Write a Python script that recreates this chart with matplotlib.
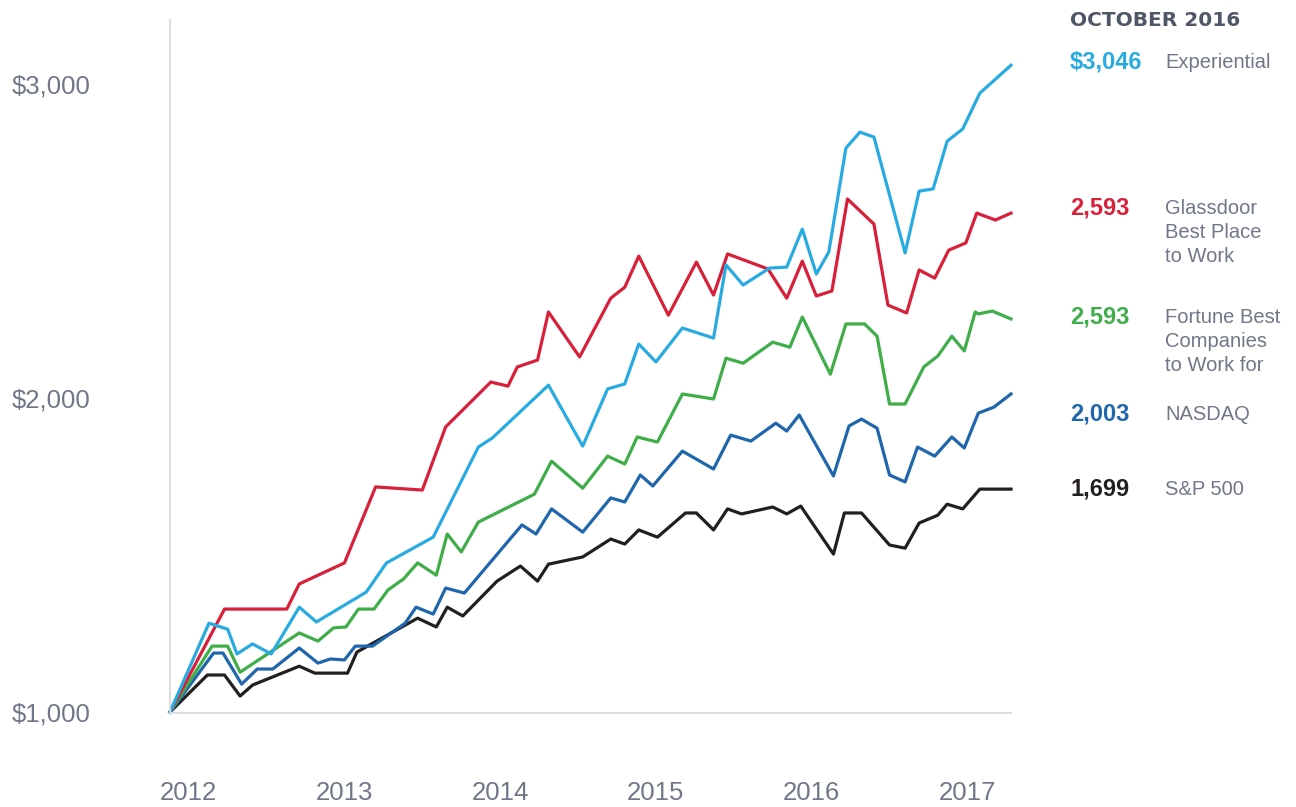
import matplotlib.pyplot as plt

plt.rcParams['font.family'] = ['Liberation Sans', 'DejaVu Sans']

# growth of $1,000
sp500_x = [2011.88, 2012.12, 2012.23, 2012.33, 2012.41, 2012.71, 2012.81, 2013.02, 2013.08, 2013.47,
           2013.59, 2013.66, 2013.76, 2013.98, 2014.13, 2014.24, 2014.31, 2014.53, 2014.71, 2014.80,
           2014.89, 2015.01, 2015.19, 2015.26, 2015.37, 2015.46, 2015.55, 2015.75, 2015.84, 2015.93,
           2016.14, 2016.21, 2016.32, 2016.50, 2016.60, 2016.69, 2016.81, 2016.87, 2016.97, 2017.08, 2017.28]
sp500_y = [1000, 1118, 1118, 1051, 1086, 1146, 1124, 1124, 1191, 1299,
           1271, 1334, 1306, 1417, 1465, 1417, 1471, 1494, 1551, 1535,
           1580, 1557, 1634, 1634, 1580, 1647, 1631, 1653, 1631, 1656,
           1503, 1634, 1634, 1532, 1522, 1602, 1627, 1662, 1647, 1710, 1710]

nasdaq_x = [2011.88, 2012.16, 2012.22, 2012.34, 2012.44, 2012.54, 2012.71, 2012.83, 2012.91, 2013.00,
            2013.07, 2013.18, 2013.39, 2013.46, 2013.57, 2013.65, 2013.77, 2014.14, 2014.23, 2014.33,
            2014.53, 2014.71, 2014.80, 2014.90, 2014.98, 2015.17, 2015.37, 2015.48, 2015.61, 2015.77,
            2015.84, 2015.92, 2016.14, 2016.24, 2016.32, 2016.42, 2016.50, 2016.60, 2016.68, 2016.79,
            2016.90, 2016.98, 2017.07, 2017.17, 2017.28]
nasdaq_y = [1000, 1188, 1188, 1089, 1137, 1137, 1204, 1156, 1169, 1166,
            1210, 1210, 1283, 1334, 1312, 1395, 1379, 1596, 1567, 1647,
            1573, 1682, 1669, 1755, 1720, 1831, 1774, 1882, 1863, 1920,
            1895, 1946, 1752, 1911, 1933, 1904, 1755, 1733, 1844, 1815,
            1876, 1841, 1952, 1971, 2013]

fortune_x = [2011.88, 2012.15, 2012.25, 2012.33, 2012.71, 2012.83, 2012.93, 2013.01, 2013.09, 2013.19,
             2013.28, 2013.38, 2013.47, 2013.59, 2013.66, 2013.75, 2013.86, 2014.22, 2014.33, 2014.53,
             2014.69, 2014.80, 2014.88, 2015.01, 2015.17, 2015.37, 2015.45, 2015.56, 2015.75, 2015.86,
             2015.94, 2016.12, 2016.22, 2016.34, 2016.42, 2016.50, 2016.60, 2016.72, 2016.81, 2016.90,
             2016.98, 2017.05, 2017.07, 2017.16, 2017.28]
fortune_y = [1000, 1210, 1210, 1127, 1252, 1226, 1268, 1271, 1328, 1328,
             1389, 1424, 1475, 1436, 1567, 1510, 1605, 1694, 1799, 1713,
             1815, 1790, 1876, 1860, 2013, 1997, 2127, 2111, 2178, 2162,
             2258, 2076, 2236, 2236, 2197, 1981, 1981, 2099, 2134, 2197,
             2150, 2274, 2268, 2277, 2252]

exper_x = [2011.88, 2012.13, 2012.25, 2012.31, 2012.41, 2012.53, 2012.71, 2012.82, 2013.14, 2013.27,
           2013.57, 2013.86, 2013.95, 2014.31, 2014.53, 2014.69, 2014.80, 2014.89, 2015.00, 2015.17,
           2015.37, 2015.45, 2015.56, 2015.73, 2015.84, 2015.94, 2016.03, 2016.11, 2016.22, 2016.31,
           2016.40, 2016.60, 2016.69, 2016.78, 2016.87, 2016.97, 2017.08, 2017.28]
exper_y = [1000, 1283, 1264, 1185, 1217, 1185, 1334, 1287, 1382, 1475,
           1557, 1844, 1873, 2041, 1847, 2029, 2045, 2172, 2115, 2223,
           2191, 2424, 2360, 2414, 2417, 2538, 2395, 2465, 2796, 2847,
           2831, 2462, 2659, 2666, 2818, 2857, 2971, 3060]

glass_x = [2011.88, 2012.23, 2012.63, 2012.71, 2013.00, 2013.20, 2013.50, 2013.65, 2013.94, 2014.05,
           2014.11, 2014.24, 2014.31, 2014.51, 2014.71, 2014.80, 2014.89, 2015.08, 2015.26, 2015.37,
           2015.46, 2015.72, 2015.84, 2015.94, 2016.03, 2016.13, 2016.23, 2016.40, 2016.49, 2016.61,
           2016.69, 2016.79, 2016.88, 2016.99, 2017.06, 2017.18, 2017.28]
glass_y = [1000, 1328, 1328, 1408, 1475, 1717, 1707, 1908, 2051, 2038,
           2099, 2121, 2274, 2131, 2318, 2353, 2452, 2264, 2433, 2328,
           2459, 2411, 2318, 2436, 2325, 2341, 2634, 2554, 2296, 2271,
           2408, 2382, 2471, 2494, 2589, 2567, 2589]

years = [2012, 2013, 2014, 2015, 2016, 2017]
y_ticks = [1000, 2000, 3000]
y_labels = ['$1,000', '$2,000', '$3,000']

legend_title = 'OCTOBER 2016'
legend_values = ['$3,046', '2,593', '2,593', '2,003', '1,699']
legend_names = ['Experiential', 'Glassdoor\nBest Place\nto Work', 'Fortune Best\nCompanies\nto Work for',
                'NASDAQ', 'S&P 500']

c_sp, c_nas, c_fort, c_exp, c_glass = '#231f20', '#1f66ad', '#3fae49', '#29abe2', '#d7203a'
legend_colors = [c_exp, c_glass, c_fort, c_nas, c_sp]
legend_py = [62, 208, 317, 414, 489]  # pixel rows of the right-hand labels

W, H = 1296, 807
fig = plt.figure(figsize=(W / 100, H / 100), dpi=100)
ax = fig.add_axes([170 / W, (H - 713) / H, (1011 - 170) / W, (713 - 20) / H])

lw = 2.3
ax.plot(sp500_x, sp500_y, color=c_sp, lw=lw, clip_on=False)
ax.plot(nasdaq_x, nasdaq_y, color=c_nas, lw=lw, clip_on=False)
ax.plot(fortune_x, fortune_y, color=c_fort, lw=lw, clip_on=False)
ax.plot(glass_x, glass_y, color=c_glass, lw=lw, clip_on=False)
ax.plot(exper_x, exper_y, color=c_exp, lw=lw, clip_on=False)

ax.set_xlim(2011.88, 2017.28)
ax.set_ylim(997, 3204)

for s in ['top', 'right']:
    ax.spines[s].set_visible(False)
for s in ['left', 'bottom']:
    ax.spines[s].set_color('#d9dadf')
    ax.spines[s].set_linewidth(1.3)

gray = '#707788'
ax.set_xticks(years)
ax.set_xticklabels([str(y) for y in years], fontsize=18.5, color=gray)
ax.set_yticks(y_ticks)
ax.set_yticklabels(y_labels, fontsize=18.5, color=gray)
ax.tick_params(length=0)
ax.tick_params(axis='x', pad=49)
ax.tick_params(axis='y', pad=114)
for lab in ax.get_yticklabels():
    lab.set_ha('left')

# right-hand value labels
fig.text(1070 / W, 1 - 20 / H, legend_title, fontsize=14.5, fontweight='bold',
         color='#4f5666', family=['DejaVu Sans'], va='center', ha='left')
for val, name, col, py in zip(legend_values, legend_names, legend_colors, legend_py):
    fig.text(1070 / W, 1 - py / H, val, fontsize=17, fontweight='bold', color=col,
             va='center', ha='left')
    fig.text(1165 / W, 1 - (py - 9) / H, name, fontsize=14.5, color=gray,
             va='top', ha='left', linespacing=1.32)

fig.savefig('out.png', dpi=100)
